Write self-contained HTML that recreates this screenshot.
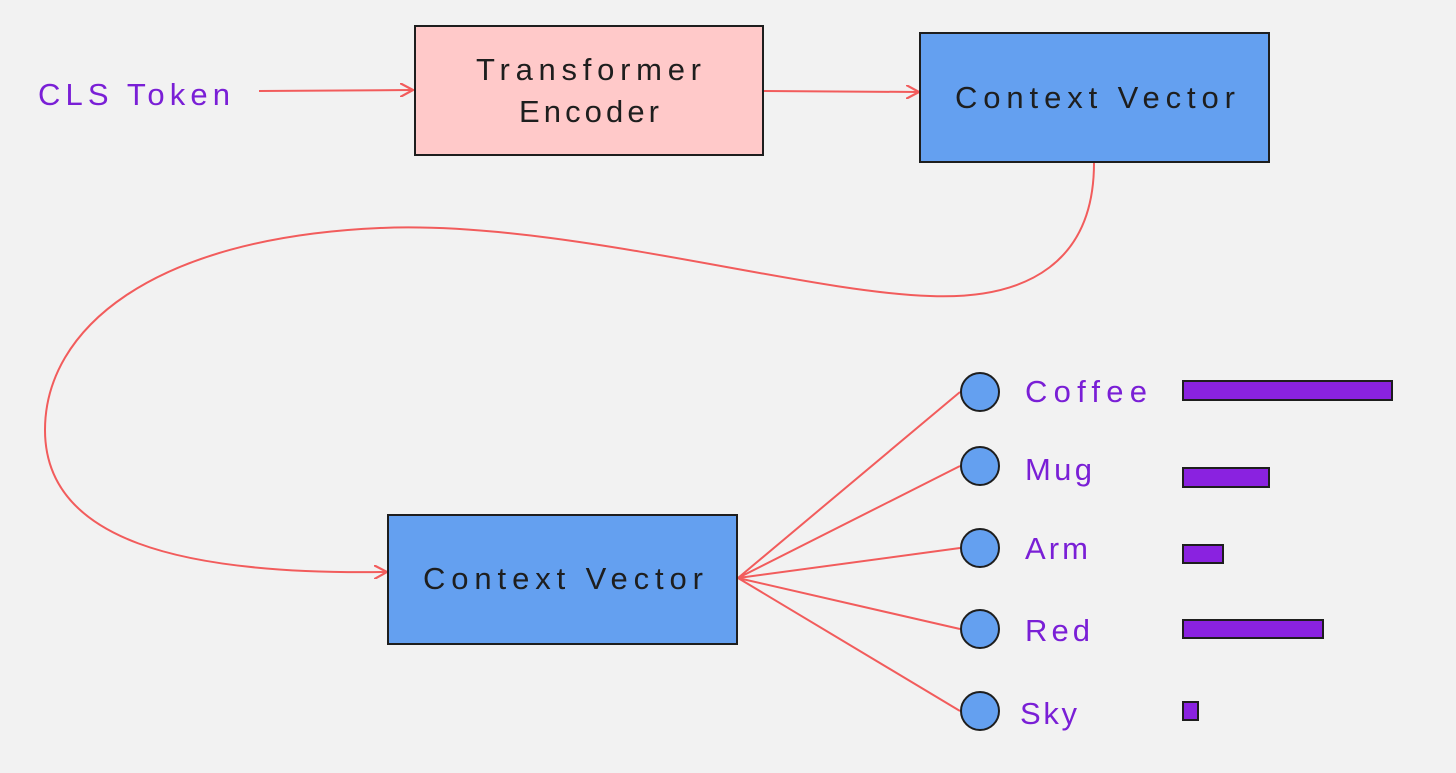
<!DOCTYPE html>
<html><head><meta charset="utf-8"><style>
html,body{margin:0;padding:0;background:#f2f2f2;}
svg{display:block;}
text{font-family:"Liberation Sans",sans-serif;}
</style></head><body>
<svg width="1456" height="773" viewBox="0 0 1456 773" xmlns="http://www.w3.org/2000/svg">
<defs>
<marker id="a" markerWidth="14" markerHeight="14" refX="12" refY="7" orient="auto" markerUnits="userSpaceOnUse">
<path d="M0,0 L13,7 L0,14" fill="none" stroke="#f25c5c" stroke-width="2.2"/>
</marker>
</defs>
<rect width="1456" height="773" fill="#f2f2f2"/>
<g fill="none" stroke="#f25c5c" stroke-width="2">
<path d="M259,91 L412,90" marker-end="url(#a)"/>
<path d="M764,91 L918,92" marker-end="url(#a)"/>
<path d="M1094,163 C1094,260 1030,300 930,296 C800,292 560,220 380,228 C150,238 45,330 45,430 C45,540 180,575 386,572" marker-end="url(#a)"/>
<path d="M738,578 L960,392 M738,578 L960,466 M738,578 L960,548 M738,578 L960,629 M738,578 L960,711"/>
</g>
<rect x="415" y="26" width="348" height="129" fill="#ffc9c9" stroke="#1e1e1e" stroke-width="2"/>
<rect x="920" y="33" width="349" height="129" fill="#64a0f0" stroke="#1e1e1e" stroke-width="2"/>
<rect x="388" y="515" width="349" height="129" fill="#64a0f0" stroke="#1e1e1e" stroke-width="2"/>
<g font-size="31" fill="#1e1e1e">
<text x="476" y="80" textLength="225" lengthAdjust="spacing">Transformer</text>
<text x="519" y="122" textLength="140" lengthAdjust="spacing">Encoder</text>
<text x="955" y="108" textLength="280" lengthAdjust="spacing">Context Vector</text>
<text x="423" y="589" textLength="280" lengthAdjust="spacing">Context Vector</text>
</g>
<text x="38" y="105" font-size="31" fill="#7a1fd6" textLength="192" lengthAdjust="spacing">CLS Token</text>
<g fill="#64a0f0" stroke="#1e1e1e" stroke-width="2">
<circle cx="980" cy="392" r="19"/>
<circle cx="980" cy="466" r="19"/>
<circle cx="980" cy="548" r="19"/>
<circle cx="980" cy="629" r="19"/>
<circle cx="980" cy="711" r="19"/>
</g>
<g font-size="31" fill="#7a1fd6">
<text x="1025" y="402" textLength="122" lengthAdjust="spacing">Coffee</text>
<text x="1025" y="480" textLength="67" lengthAdjust="spacing">Mug</text>
<text x="1025" y="559" textLength="63" lengthAdjust="spacing">Arm</text>
<text x="1025" y="641" textLength="65" lengthAdjust="spacing">Red</text>
<text x="1020" y="724" textLength="57" lengthAdjust="spacing">Sky</text>
</g>
<g fill="#8a22e0" stroke="#1e1e1e" stroke-width="2">
<rect x="1183" y="381" width="209" height="19"/>
<rect x="1183" y="468" width="86" height="19"/>
<rect x="1183" y="545" width="40" height="18"/>
<rect x="1183" y="620" width="140" height="18"/>
<rect x="1183" y="702" width="15" height="18"/>
</g>
</svg>
</body></html>
